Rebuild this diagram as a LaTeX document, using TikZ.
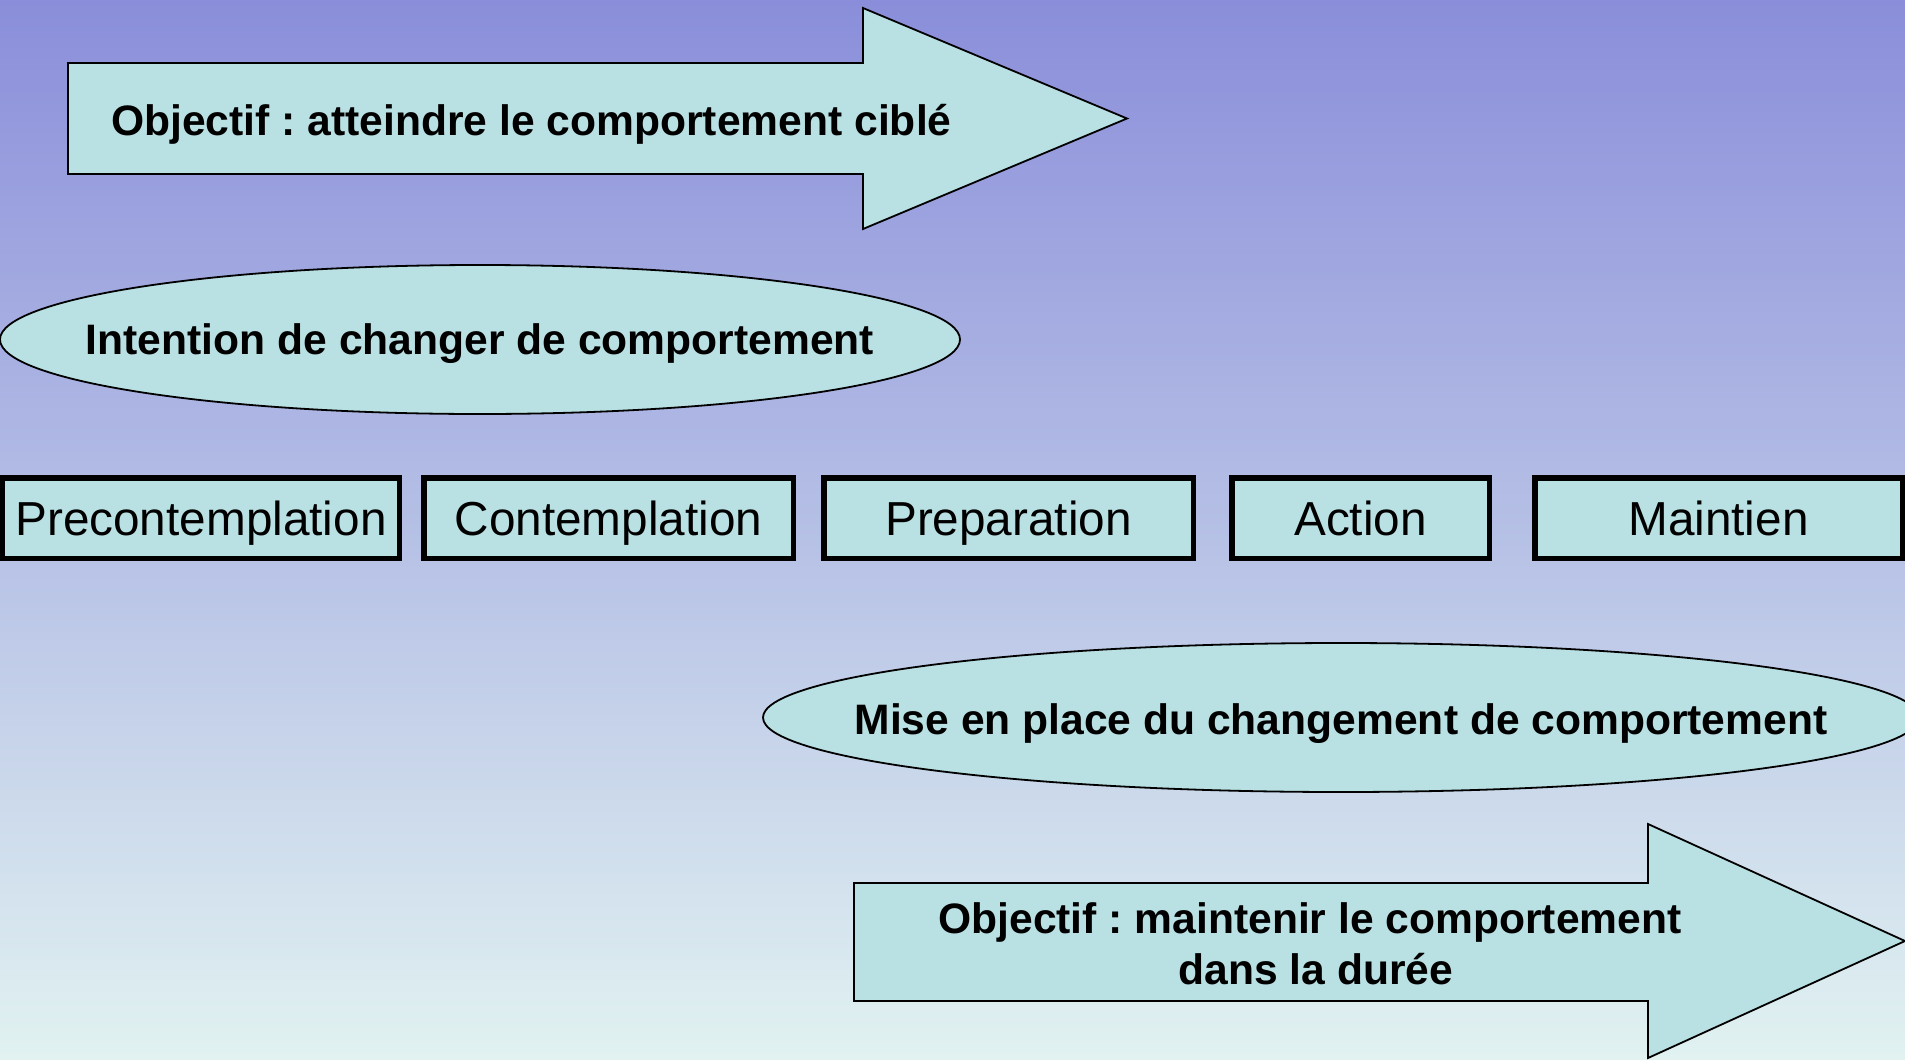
\documentclass[tikz,border=0pt]{standalone}
\usepackage{fontspec}
\setmainfont{Liberation Sans}
\usetikzlibrary{shapes.geometric}
\frenchspacing
\definecolor{stagefill}{RGB}{185,224,227}
\definecolor{bgtop}{RGB}{138,142,218}
\definecolor{bgmid}{RGB}{184,194,230}
\definecolor{bgbot}{RGB}{225,242,241}
\tikzset{
  bigtext/.style={font=\fontsize{42.6bp}{51bp}\selectfont\bfseries,
    text height=30.5bp, text depth=0pt, inner sep=0pt},
  stagebox/.style={draw=black, line width=5.5bp, fill=stagefill,
    minimum height=80.5bp, inner sep=0pt,
    font=\fontsize{47.7bp}{55bp}\selectfont, text height=34.2bp, text depth=0pt},
  phase/.style={ellipse, draw=black, line width=1.8bp, fill=stagefill, inner sep=0pt},
  goalarrow/.style={draw=black, line width=1.8bp, fill=stagefill, line join=miter},
}
\begin{document}
\begin{tikzpicture}[x=1bp,y=-1bp]
\useasboundingbox (0,0) rectangle (1905,1059);
\clip (0,0) rectangle (1905,1059);
% background
\shade[top color=bgtop, middle color=bgmid, bottom color=bgbot] (0,0) rectangle (1905,1059);

% goal arrow: reach the behaviour
\draw[goalarrow] (68,63) -- (863,63) -- (863,8) -- (1127,118.5) -- (863,229) -- (863,174) -- (68,174) -- cycle;
\node[bigtext, anchor=west] (goal1) at (111,120) {Objectif : atteindre le comportement ciblé};

% intention phase
\node[phase, minimum width=960bp, minimum height=149bp] (intent) at (480,339.5) {};
\node[bigtext] (intenttext) at (intent.center) {Intention de changer de comportement};

% stages
\node[stagebox, minimum width=396.5bp] (pre)  at (201,518)    {Precontemplation};
\node[stagebox, minimum width=369.5bp] (cont) at (608.5,518)  {Contemplation};
\node[stagebox, minimum width=369.5bp] (prep) at (1008.5,518) {Preparation};
\node[stagebox, minimum width=257.5bp] (act)  at (1360.5,518) {Action};
\node[stagebox, minimum width=367.5bp] (main) at (1718.5,518) {Maintien};

% implementation phase
\node[phase, minimum width=1156bp, minimum height=149bp] (implement) at (1341,717.5) {};
\node[bigtext] (impltext) at (1341,719.5) {Mise en place du changement de comportement};

% goal arrow: keep the behaviour
\draw[goalarrow] (854,883) -- (1648,883) -- (1648,824) -- (1905,941) -- (1648,1058) -- (1648,1001) -- (854,1001) -- cycle;
\node[font=\fontsize{42.6bp}{51bp}\selectfont\bfseries, align=center, inner sep=0pt, anchor=base]
  (goal2) at (1316,984) {Objectif : maintenir le comportement\hspace*{12bp}\\dans la durée};
\end{tikzpicture}
\end{document}
